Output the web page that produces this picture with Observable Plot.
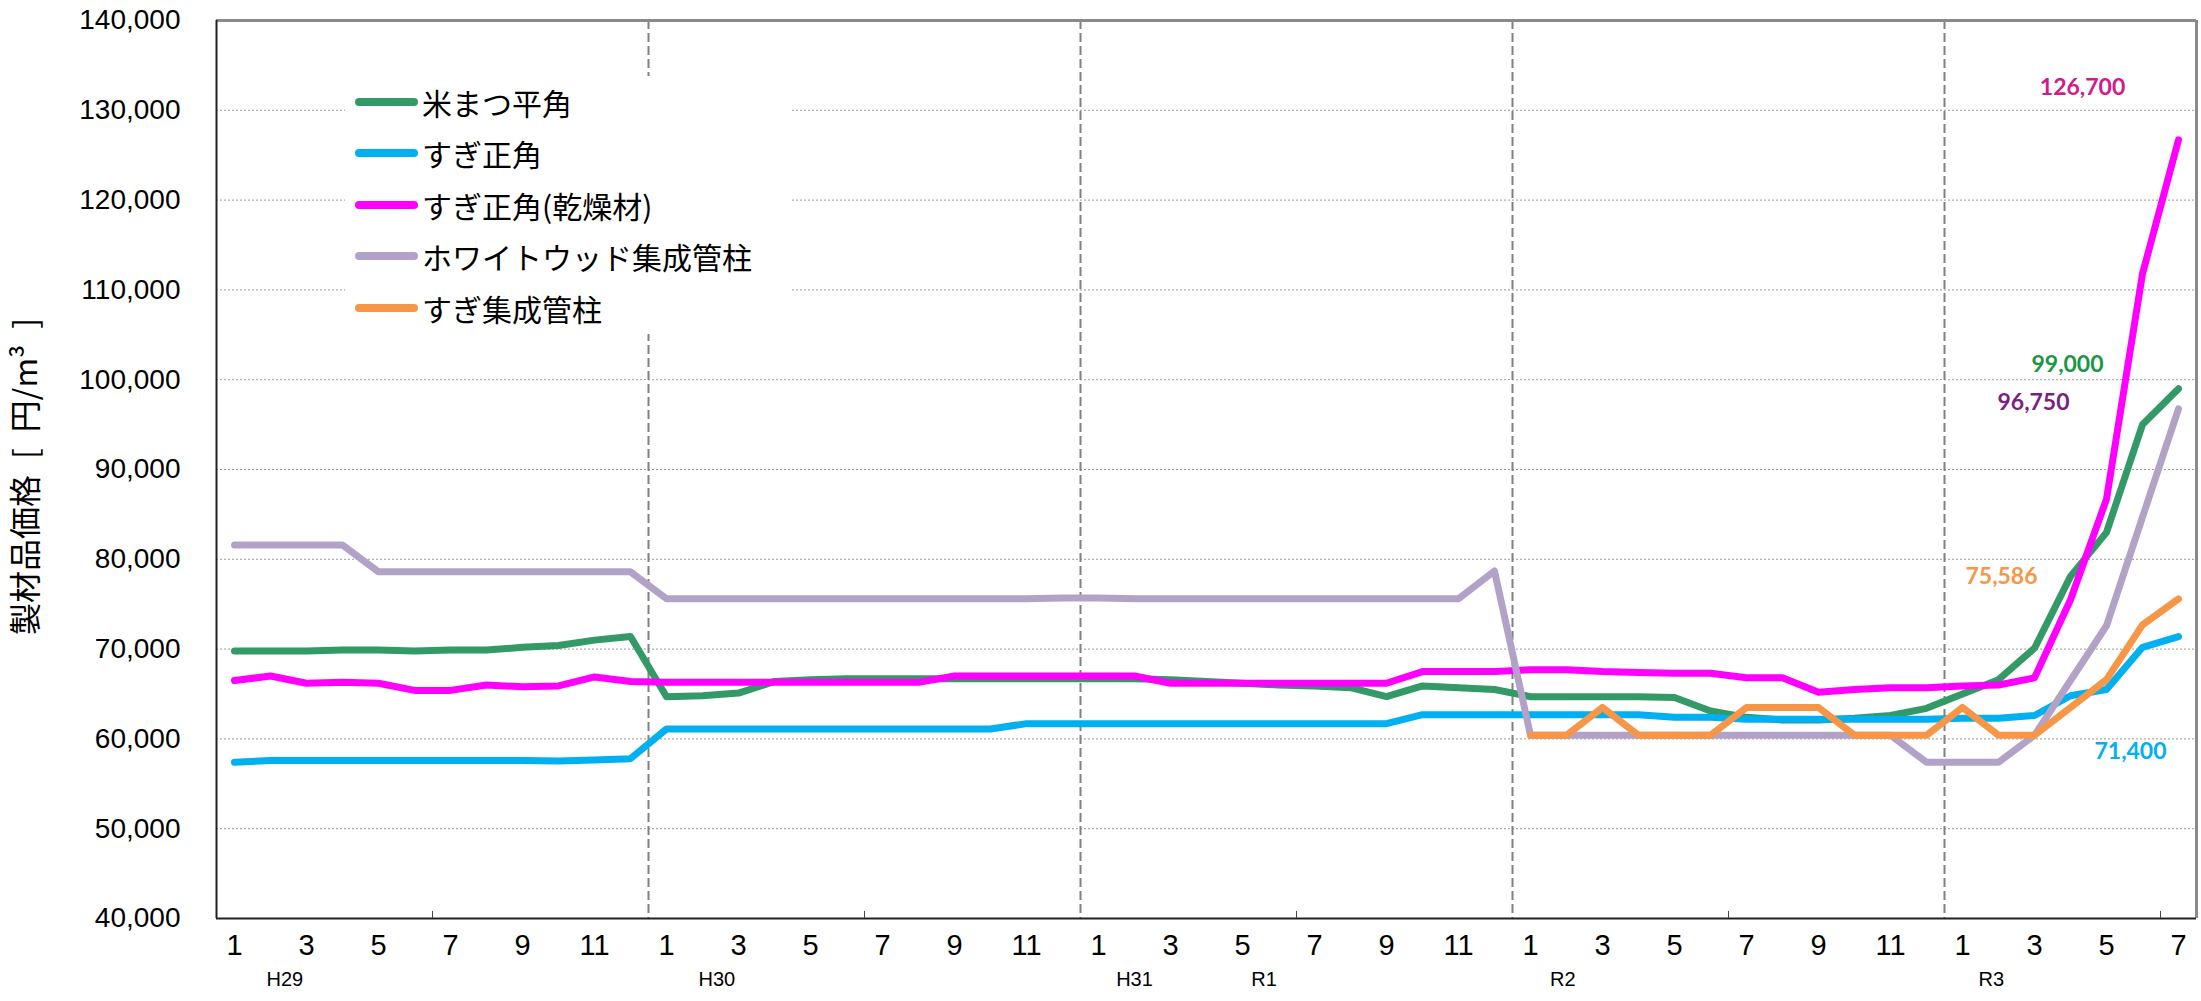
<!DOCTYPE html>
<html>
<head>
<meta charset="utf-8">
<script src="https://cdn.jsdelivr.net/npm/d3@7"></script>
<script src="https://cdn.jsdelivr.net/npm/@observablehq/plot@0.6"></script>
<style>
  html, body { margin: 0; padding: 0; background: #fff; }
  #wrap { position: relative; width: 2201px; height: 1001px; overflow: hidden; }
  #legend { position: absolute; left: 345px; top: 76px; width: 447px; height: 258px; background: #fff;
            font-family: "Noto Sans CJK JP", sans-serif; font-size: 30px; color: #000; }
  .row { height: 51.5px; display: flex; align-items: center; white-space: nowrap; }
  .sw { width: 63px; height: 8px; border-radius: 4px; margin-left: 10px; margin-right: 4px; flex: none; }
</style>
</head>
<body>
<div id="wrap"></div>
<script>
// ---- data ----
const monthLabels = [
  1,2,3,4,5,6,7,8,9,10,11,12,
  1,2,3,4,5,6,7,8,9,10,11,12,
  1,2,3,4,5,6,7,8,9,10,11,12,
  1,2,3,4,5,6,7,8,9,10,11,12,
  1,2,3,4,5,6,7
];
const eraLabels = ["H29", "H30", "H31", "R1", "R2", "R3"];
const eraAt = [1.4, 13.4, 25.0, 28.6, 36.9, 48.8];   // month index under which each era label sits

const seriesNames = ["米まつ平角", "すぎ正角", "すぎ正角(乾燥材)", "ホワイトウッド集成管柱", "すぎ集成管柱"];

const beimatsu = [
  69800,69800,69800,69900,69900,69800,69900,69900,70200,70400,71000,71400,
  64700,64800,65100,66400,66600,66700,66700,66700,66700,66700,66700,66700,
  66700,66700,66600,66400,66200,66000,65900,65700,64700,65900,65700,65500,
  64700,64700,64700,64700,64600,63100,62400,62100,62100,62300,62600,63400,
  65000,66600,70100,78100,83000,95000,99000
];
const sugi = [
  57400,57600,57600,57600,57600,57600,57600,57600,57600,57550,57650,57800,
  61100,61100,61100,61100,61100,61100,61100,61100,61100,61100,61700,61700,
  61700,61700,61700,61700,61700,61700,61700,61700,61700,62700,62700,62700,
  62700,62700,62700,62700,62400,62400,62200,62200,62200,62200,62200,62200,
  62300,62300,62600,64800,65500,70200,71400
];
const sugiDry = [
  66500,67000,66200,66300,66200,65400,65400,66000,65800,65900,66900,66400,
  66300,66300,66300,66300,66300,66300,66300,66300,67000,67000,67000,67000,
  67000,67000,66200,66200,66200,66200,66200,66200,66200,67500,67500,67500,
  67700,67700,67500,67400,67300,67300,66800,66800,65200,65500,65700,65700,
  65900,66000,66800,75500,86700,111800,126700
];
const whitewood = [
  81600,81600,81600,81600,78600,78600,78600,78600,78600,78600,78600,78600,
  75600,75600,75600,75600,75600,75600,75600,75600,75600,75600,75600,75700,
  75700,75600,75600,75600,75600,75600,75600,75600,75600,75600,75600,78700,
  60400,60400,60400,60400,60400,60400,60400,60400,60400,60400,60400,57400,
  57400,57400,60400,66500,72600,84700,96750
];
const sugiGlulam = [
  null,null,null,null,null,null,null,null,null,null,null,null,
  null,null,null,null,null,null,null,null,null,null,null,null,
  null,null,null,null,null,null,null,null,null,null,null,null,
  60400,60400,63500,60400,60400,60400,63500,63500,63500,60400,60400,60400,
  63500,60400,60400,63500,66600,72700,75586
];
const yTicks = [40000,50000,60000,70000,80000,90000,100000,110000,120000,130000,140000];
const yTitle = "製材品価格\u2002[\u2002円/m³\u2002]";

// ---- styles ----
const allSeries = [beimatsu, sugi, sugiDry, whitewood, sugiGlulam];
const lineColors = ["#339966", "#00B0F0", "#FF00FF", "#B3A2C7", "#F79646"];
const labelColors = ["#1a9645", "#00B0F0", "#d01b8a", "#7a1f7d", "#F79646"];
const labelOffsets = [[-111, -24], [-48, 115], [-96, -52], [-145, -6], [-177, -22]];

const n = monthLabels.length;
const idx = d3.range(n);
const oddIdx = idx.filter(i => monthLabels[i] % 2 === 1);
const yearBounds = idx.filter(i => i > 0 && monthLabels[i] === 1).map(i => i - 0.5);
const halfTicks = idx.filter(i => monthLabels[i] === 7).map(i => i - 0.5);
const fmt = d3.format(",");
const numFont = "'Liberation Sans', Arial, sans-serif";

const lineMarks = allSeries.map((vals, s) =>
  Plot.line(idx.filter(i => vals[i] != null), {
    x: i => i, y: i => vals[i], stroke: lineColors[s], strokeWidth: 7,
    strokeLinejoin: "round", strokeLinecap: "round"
  })
);
const labelMarks = allSeries.map((vals, s) =>
  Plot.text([n - 1], {
    x: i => i, y: i => vals[i], text: i => fmt(vals[i]),
    dx: labelOffsets[s][0], dy: labelOffsets[s][1], fill: labelColors[s],
    fontSize: 23, fontWeight: "bold", fontFamily: "Lato, 'Open Sans', sans-serif"
  })
);

const chart = Plot.plot({
  width: 2201, height: 1001,
  marginLeft: 216, marginRight: 5, marginTop: 20, marginBottom: 83,
  x: { domain: [-0.5, n - 0.5] },
  y: { domain: [40000, 140000] },
  style: { fontFamily: numFont, background: "#fff", color: "#000", overflow: "visible" },
  marks: [
    Plot.ruleY(yTicks.filter(v => v > 40000 && v < 140000), { stroke: "#9a9a9a", strokeWidth: 1, strokeDasharray: "2,2" }),
    Plot.ruleX(yearBounds, { stroke: "#808080", strokeWidth: 2, strokeDasharray: "9,4" }),
    Plot.ruleY([140000], { stroke: "#8a8a8a", strokeWidth: 3 }),
    Plot.ruleX([n - 0.5], { stroke: "#8a8a8a", strokeWidth: 3 }),
    Plot.ruleX([-0.5], { stroke: "#222", strokeWidth: 2 }),
    Plot.ruleY([40000], { stroke: "#222", strokeWidth: 2 }),
    Plot.axisX(halfTicks, { anchor: "bottom", tickSize: -7, tickFormat: () => "", stroke: "#444", label: null }),
    Plot.axisX(oddIdx, { anchor: "bottom", tickSize: 0, tickPadding: 16, tickFormat: i => String(monthLabels[i]),
                         fontSize: 29, fontFamily: numFont, fill: "#000", label: null }),
    Plot.axisY(yTicks, { anchor: "left", tickSize: 0, tickPadding: 36, tickFormat: fmt,
                         fontSize: 28, fontFamily: numFont, fill: "#000", label: null }),
    Plot.text(eraLabels, { x: (d, i) => eraAt[i], frameAnchor: "bottom", dy: 67, text: d => d,
                           fontSize: 20, fontFamily: numFont, fill: "#000" }),
    Plot.text([yTitle], { frameAnchor: "left", textAnchor: "middle", dx: -190, dy: 7, rotate: -90, text: d => d,
                          fontSize: 32, fontFamily: "'Noto Sans CJK JP', sans-serif", fill: "#000" }),
    ...lineMarks,
    ...labelMarks
  ]
});

const wrap = document.getElementById("wrap");
wrap.appendChild(chart);

// legend (HTML, drawn over the plot area like the original)
const legend = document.createElement("div");
legend.id = "legend";
seriesNames.forEach((name, s) => {
  const row = document.createElement("div");
  row.className = "row";
  const sw = document.createElement("span");
  sw.className = "sw";
  sw.style.background = lineColors[s];
  const tx = document.createElement("span");
  tx.textContent = name;
  row.appendChild(sw);
  row.appendChild(tx);
  legend.appendChild(row);
});
wrap.appendChild(legend);
</script>
</body>
</html>
